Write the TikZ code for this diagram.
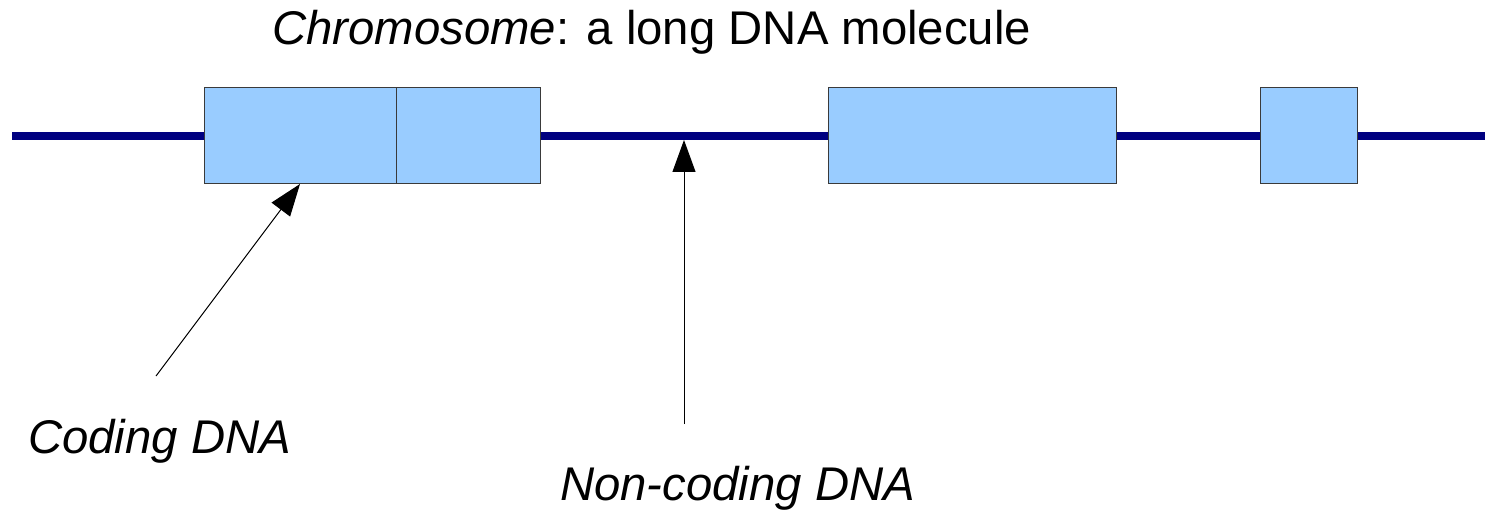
\documentclass[tikz,border=0pt]{standalone}
\usepackage{fontspec}
\setmainfont{Liberation Sans}
\usetikzlibrary{arrows.meta}
\definecolor{dnaline}{HTML}{000080}
\definecolor{genefill}{HTML}{99CCFF}
\definecolor{geneedge}{HTML}{3A3A3A}
\begin{document}
\begin{tikzpicture}[x=1pt,y=-1pt,
  gene/.style={draw=geneedge,line width=1pt,fill=genefill,inner sep=0pt,outer sep=0pt,minimum height=96pt},
  strand/.style={draw=dnaline,line width=8pt},
  pointer/.style={draw=black,line width=1pt,-{Triangle[length=32pt,width=23pt]}},
  label/.style={font=\fontsize{47.3}{55}\selectfont,inner sep=0pt,anchor=base west}]
\useasboundingbox (0,0) rectangle (1485,513);
% the chromosome strand
\coordinate (sL) at (12,136);
\coordinate (sR) at (1485,136);
\draw[strand] (sL) -- (sR);
% coding segments
\node[gene,minimum width=192pt] (g1) at (300,136) {};
\node[gene,minimum width=144pt] (g2) at (468,136) {};
\node[gene,minimum width=288pt] (g3) at (972,136) {};
\node[gene,minimum width=97pt] (g4) at (1308.5,136) {};
% labels
\node[label] (title) at (272,45) {\textit{Chromosome}: a long DNA molecule};
\node[label] (coding) at (28,453) {\textit{Coding DNA}};
\node[label] (noncoding) at (560,500) {\textit{Non-coding DNA}};
% pointers
\coordinate (cTail) at (156,376);
\coordinate (nTail) at (684,424);
\coordinate (nTip) at (684,140);
\draw[pointer] (cTail) -- (g1.south);
\draw[pointer] (nTail) -- (nTip);
\end{tikzpicture}
\end{document}
